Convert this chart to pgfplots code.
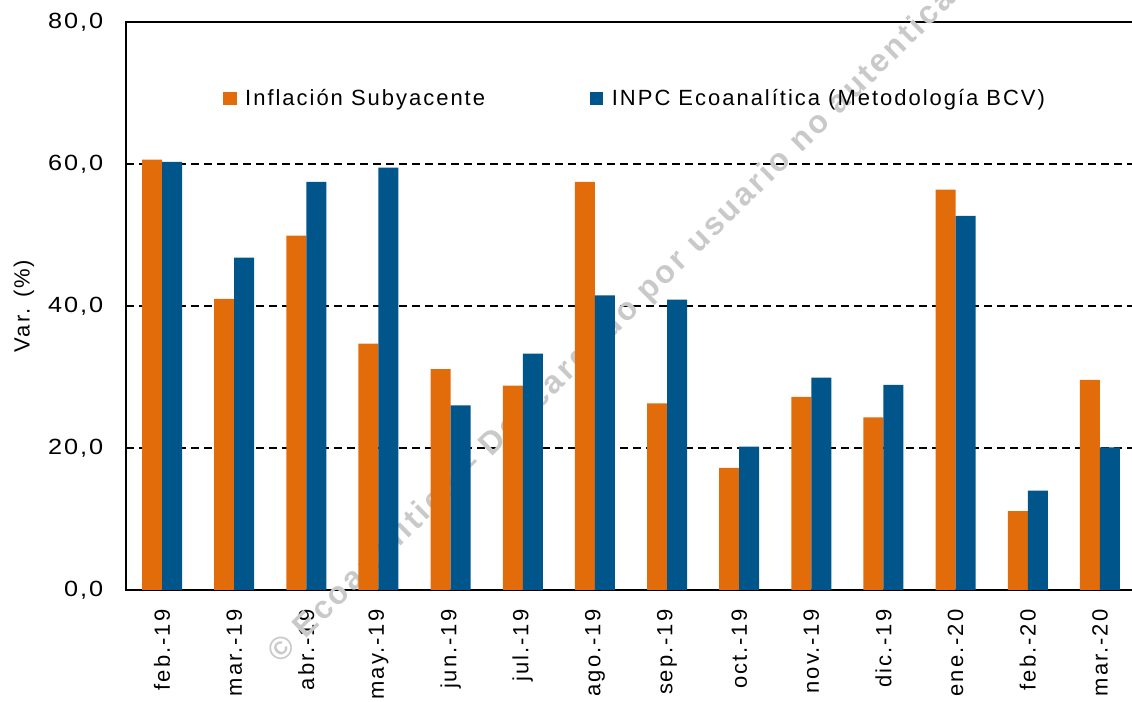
\documentclass[border=0pt]{standalone}
\usepackage{fontspec}
\setmainfont{Liberation Sans}[LetterSpace=9]
\newfontfamily\ytickfont{Liberation Sans}[LetterSpace=9,FakeStretch=1.15]
\usepackage{pgfplots}
\pgfplotsset{compat=1.18}
\definecolor{corange}{HTML}{E36C0A}
\definecolor{cblue}{HTML}{00558B}
\pgfplotsset{sqlegend/.style={legend image code/.code={\fill[##1,draw=none] (0pt,-3.4pt) rectangle (6.8pt,3.4pt);}}}
\begin{document}
\fontsize{11}{13}\selectfont
\begin{tikzpicture}
\begin{axis}[
  name=ax,
  scale only axis, width=505pt, height=284pt,
  xmin=-0.5, xmax=13.5, ymin=0, ymax=80,
  clip=false,
  ybar=0pt, bar width=10pt,
  xtick={0,1,2,3,4,5,6,7,8,9,10,11,12,13},
  xticklabels={feb.-19,mar.-19,abr.-19,may.-19,jun.-19,jul.-19,ago.-19,sep.-19,oct.-19,nov.-19,dic.-19,ene.-20,feb.-20,mar.-20},
  xticklabel style={rotate=90, anchor=east, font=\fontsize{11}{13}\selectfont},
  xticklabel shift=6pt,
  ytick={0,20,40,60,80},
  yticklabel style={font=\ytickfont\fontsize{11}{13}\selectfont},
  yticklabel shift=7.5pt,
  major tick length=0pt,
  /pgf/number format/.cd, fixed, fixed zerofill, precision=1, use comma, assume math mode=true,
  /pgfplots/.cd,
  ymajorgrids, grid style={black, line width=0.8pt, dash pattern=on 4pt off 2.5pt},
  axis line style={black, line width=0.9pt},
  ylabel={Var. (\%)},
  ylabel style={at={(axis description cs:-0.101,0.5)}, anchor=center, font=\fontsize{11}{13}\selectfont},
  legend style={at={(axis cs:0.845,69.2)}, anchor=west, draw=none, fill=none, inner sep=0pt, outer sep=0pt,
    legend columns=2, /tikz/every even column/.append style={column sep=50.5pt},
    /tikz/every odd column/.append style={column sep=2.5pt},
    nodes={inner sep=1.8pt}, font=\fontsize{11}{13}\selectfont},
]
\node[rotate=44.5, anchor=west, text=black!21, inner sep=0pt, font=\fontsize{16}{18}\selectfont\bfseries] at (axis cs:1.56,-9.7) {© Ecoanalítica – Descargado por usuario no autenticado};
\addplot[fill=corange, draw=none, sqlegend] coordinates {
(0,60.6) (1,41.0) (2,49.9) (3,34.7) (4,31.1) (5,28.8) (6,57.5) (7,26.3) (8,17.2) (9,27.2) (10,24.3) (11,56.4) (12,11.1) (13,29.6)};
\addplot[fill=cblue, draw=none, sqlegend] coordinates {
(0,60.3) (1,46.8) (2,57.5) (3,59.5) (4,26.0) (5,33.3) (6,41.5) (7,40.9) (8,20.2) (9,29.9) (10,28.9) (11,52.7) (12,14.0) (13,20.1)};
\legend{Inflación Subyacente, INPC Ecoanalítica (Metodología BCV)}
\end{axis}
\pgfresetboundingbox
\path ([xshift=-63pt,yshift=-56pt]ax.south west) rectangle ([xshift=503pt,yshift=11pt]ax.north west);
\end{tikzpicture}
\end{document}
